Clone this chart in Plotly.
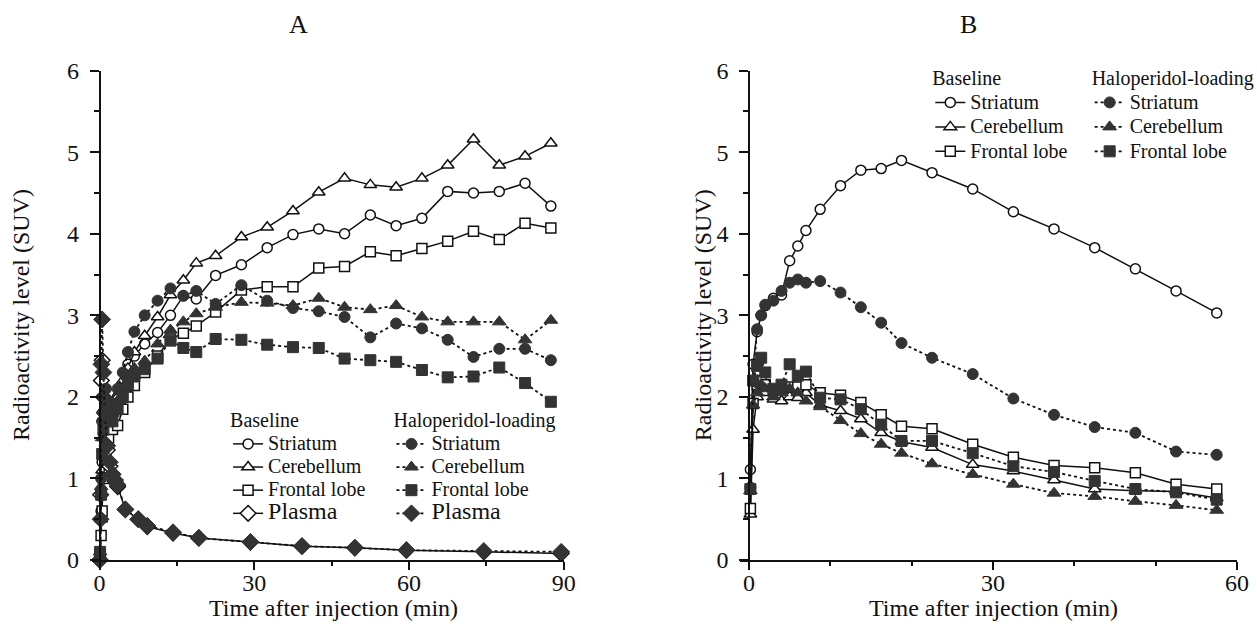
import plotly.graph_objects as go

W, H = 1257, 634
FONT = "Liberation Serif"

# ---------------- Panel A data (time in min, SUV) ----------------
tA = [0.1, 0.3, 0.5, 0.75, 1.25, 1.75, 2.5, 3.5, 4.5, 5.5, 6.75, 8.75, 11.25, 13.75,
      16.25, 18.75, 22.5, 27.5, 32.5, 37.5, 42.5, 47.5, 52.5, 57.5, 62.5, 67.5, 72.5,
      77.5, 82.5, 87.5]
A_base_striatum = [0.05, 0.6, 1.2, 1.55, 1.8, 1.85, 1.9, 2.0, 2.15, 2.4, 2.5, 2.65, 2.79,
                   3.0, 3.24, 3.20, 3.49, 3.62, 3.83, 3.99, 4.06, 4.00, 4.23, 4.10, 4.19,
                   4.52, 4.50, 4.52, 4.62, 4.34]
A_base_cerebellum = [0.05, 0.5, 1.1, 1.5, 1.75, 1.8, 1.85, 2.0, 2.2, 2.35, 2.55, 2.75, 2.98,
                     3.25, 3.43, 3.64, 3.73, 3.96, 4.08, 4.28, 4.51, 4.68, 4.60, 4.57, 4.68,
                     4.84, 5.16, 4.84, 4.95, 5.11]
A_base_frontal = [0.05, 0.3, 0.6, 1.0, 1.35, 1.5, 1.6, 1.65, 1.85, 2.0, 2.14, 2.3, 2.5,
                  2.71, 2.78, 2.87, 3.04, 3.31, 3.35, 3.35, 3.58, 3.60, 3.78, 3.73, 3.82,
                  3.91, 4.03, 3.93, 4.13, 4.07]
A_halo_striatum = [0.1, 1.0, 1.7, 2.0, 2.1, 1.95, 1.9, 2.1, 2.3, 2.55, 2.8, 3.0, 3.18, 3.33,
                   3.24, 3.30, 3.14, 3.37, 3.18, 3.09, 3.05, 2.98, 2.73, 2.90, 2.84, 2.70,
                   2.49, 2.59, 2.59, 2.45]
A_halo_cerebellum = [0.1, 0.9, 1.5, 1.85, 1.95, 1.85, 1.8, 1.95, 2.1, 2.25, 2.35, 2.44, 2.65,
                     2.82, 2.92, 3.02, 3.10, 3.16, 3.15, 3.12, 3.21, 3.10, 3.07, 3.12, 2.98,
                     2.92, 2.92, 2.92, 2.70, 2.94]
A_halo_frontal = [0.1, 0.8, 1.3, 1.6, 1.75, 1.7, 1.7, 1.85, 2.0, 2.15, 2.25, 2.34, 2.47, 2.69,
                  2.60, 2.55, 2.71, 2.70, 2.64, 2.61, 2.60, 2.47, 2.45, 2.43, 2.33, 2.24,
                  2.25, 2.36, 2.17, 1.94]

tA_plasma = [0.05, 0.2, 0.35, 0.5, 0.75, 1.0, 1.5, 2.0, 2.5, 3.0, 3.5, 5.0, 7.5, 9.25,
             14.25, 19.25, 29.25, 39.25, 49.5, 59.5, 74.5, 89.5]
A_base_plasma = [0.0, 0.8, 2.2, 2.45, 2.0, 1.7, 1.35, 1.15, 1.05, 0.97, 0.9, 0.62, 0.50,
                 0.41, 0.33, 0.27, 0.22, 0.17, 0.15, 0.12, 0.10, 0.08]
A_halo_plasma = [0.0, 0.5, 2.4, 2.95, 2.3, 1.8, 1.4, 1.2, 1.05, 0.98, 0.92, 0.62, 0.50,
                 0.42, 0.34, 0.27, 0.22, 0.17, 0.15, 0.12, 0.11, 0.10]

# ---------------- Panel B data ----------------
tB = [0.17, 0.5, 1.0, 1.5, 2.0, 3.0, 4.0, 5.0, 6.0, 7.0, 8.75, 11.25, 13.75, 16.25, 18.75,
      22.5, 27.5, 32.5, 37.5, 42.5, 47.5, 52.5, 57.5]
B_base_striatum = [1.11, 2.4, 2.8, 3.0, 3.12, 3.21, 3.25, 3.67, 3.85, 4.04, 4.30, 4.59, 4.78,
                   4.80, 4.90, 4.75, 4.55, 4.27, 4.06, 3.83, 3.57, 3.30, 3.03]
B_base_cerebellum = [0.56, 1.6, 2.0, 2.1, 2.05, 1.97, 1.95, 2.0, 1.99, 2.05, 1.9, 1.83, 1.73,
                     1.56, 1.45, 1.38, 1.17, 1.09, 0.98, 0.87, 0.85, 0.84, 0.76]
B_base_frontal = [0.63, 1.92, 2.15, 2.2, 2.15, 2.08, 2.1, 2.12, 2.12, 2.15, 2.05, 2.02, 1.93,
                  1.78, 1.64, 1.61, 1.42, 1.26, 1.16, 1.13, 1.07, 0.93, 0.87]
B_halo_striatum = [0.89, 2.2, 2.83, 3.0, 3.13, 3.18, 3.30, 3.40, 3.44, 3.40, 3.42, 3.28, 3.10,
                   2.91, 2.66, 2.48, 2.28, 1.98, 1.78, 1.63, 1.56, 1.33, 1.29]
B_halo_cerebellum = [0.85, 1.9, 2.05, 2.15, 2.1, 2.0, 2.05, 2.1, 2.05, 1.95, 1.88, 1.71, 1.55,
                     1.42, 1.31, 1.18, 1.05, 0.93, 0.82, 0.78, 0.72, 0.67, 0.61]
B_halo_frontal = [0.87, 2.2, 2.38, 2.48, 2.3, 2.1, 2.15, 2.40, 2.26, 2.31, 1.99, 1.97, 1.85,
                  1.66, 1.46, 1.46, 1.31, 1.15, 1.08, 0.97, 0.87, 0.83, 0.74]

yticks = [0, 1, 2, 3, 4, 5, 6]
yminor = [0.5, 1.5, 2.5, 3.5, 4.5, 5.5]
A_xticks = [0, 30, 60, 90]
A_xminor = [15, 45, 75]
B_xticks = [0, 30, 60]
B_xminor = [10, 20, 40, 50]

BLACK = "#111111"
DARK = "#333333"


def px(x):
    return x / W


def py(y):
    return 1 - y / H


def lbl(text, size=20):
    return "<span style='font-size:%dpx'>%s</span>" % (size, text)


fig = go.Figure()


def add(x, y, name, symbol, filled, xa, ya, legend, size=10):
    if filled:
        marker = dict(symbol=symbol, size=size + 1, color=DARK, line=dict(color=DARK, width=1))
        line = dict(color=BLACK, width=1.8, dash="dot")
    else:
        marker = dict(symbol=symbol, size=size, color="white", line=dict(color=BLACK, width=1.5))
        line = dict(color=BLACK, width=1.5)
    fig.add_trace(go.Scatter(x=x, y=y, name=name, mode="lines+markers", marker=marker,
                             line=line, xaxis=xa, yaxis=ya, legend=legend, cliponaxis=False))


# Panel A
add(tA, A_base_striatum, lbl("Striatum"), "circle", False, "x", "y", "legend")
add(tA, A_base_cerebellum, lbl("Cerebellum"), "triangle-up", False, "x", "y", "legend", 11)
add(tA, A_base_frontal, lbl("Frontal lobe"), "square", False, "x", "y", "legend", 10)
add(tA_plasma, A_base_plasma, lbl("Plasma", 24), "diamond", False, "x", "y", "legend", 12)
add(tA, A_halo_striatum, lbl("Striatum"), "circle", True, "x", "y", "legend2")
add(tA, A_halo_cerebellum, lbl("Cerebellum"), "triangle-up", True, "x", "y", "legend2", 11)
add(tA, A_halo_frontal, lbl("Frontal lobe"), "square", True, "x", "y", "legend2", 10)
add(tA_plasma, A_halo_plasma, lbl("Plasma", 24), "diamond", True, "x", "y", "legend2", 12)

# Panel B
add(tB, B_base_striatum, lbl("Striatum"), "circle", False, "x2", "y2", "legend3")
add(tB, B_base_cerebellum, lbl("Cerebellum"), "triangle-up", False, "x2", "y2", "legend3", 11)
add(tB, B_base_frontal, lbl("Frontal lobe"), "square", False, "x2", "y2", "legend3", 10)
add(tB, B_halo_striatum, lbl("Striatum"), "circle", True, "x2", "y2", "legend4")
add(tB, B_halo_cerebellum, lbl("Cerebellum"), "triangle-up", True, "x2", "y2", "legend4", 11)
add(tB, B_halo_frontal, lbl("Frontal lobe"), "square", True, "x2", "y2", "legend4", 10)

tickfont = dict(family=FONT, size=24, color=BLACK)
y_dom = [py(560), py(70.7)]


def xaxis(dom, rng, tv, mv, anchor):
    return dict(domain=dom, range=rng, anchor=anchor, showline=True, linecolor=BLACK,
                linewidth=1.5, ticks="outside", ticklen=8, tickwidth=1.5, tickcolor=BLACK,
                tickvals=tv, ticktext=[str(v) for v in tv], showgrid=False, zeroline=False,
                tickfont=tickfont, automargin=False, ticklabelstandoff=-8,
                minor=dict(tickvals=mv, ticks="outside", ticklen=4, tickwidth=1.5,
                           tickcolor=BLACK, showgrid=False))


def yaxis(pos):
    return dict(domain=y_dom, range=[0, 6], anchor="free", position=pos, showline=True,
                linecolor=BLACK, linewidth=1.5, ticks="outside", ticklen=9, tickwidth=1.5,
                tickcolor=BLACK, tickvals=yticks, ticktext=[str(v) for v in yticks],
                showgrid=False, zeroline=False, tickfont=tickfont, automargin=False,
                ticklabelstandoff=6,
                minor=dict(tickvals=yminor, ticks="outside", ticklen=5, tickwidth=1.5,
                           tickcolor=BLACK, showgrid=False))


def legend(x, y, title, fsize, tsize):
    return dict(x=x, y=y, xanchor="left", yanchor="top", bgcolor="rgba(0,0,0,0)",
                font=dict(family=FONT, size=fsize, color=BLACK),
                title=dict(text=lbl(title), font=dict(family=FONT, size=tsize, color=BLACK),
                           side="top"),
                tracegroupgap=0, itemclick=False, itemdoubleclick=False)


def ann(text, x, y, size=24, angle=0):
    return dict(text=text, x=px(x), y=py(y), xref="paper", yref="paper", showarrow=False,
                xanchor="center", yanchor="middle", textangle=angle,
                font=dict(family=FONT, size=size, color=BLACK))


fig.update_layout(
    width=W, height=H, paper_bgcolor="white", plot_bgcolor="white",
    margin=dict(l=0, r=0, t=0, b=0), showlegend=True,
    font=dict(family=FONT, color=BLACK),
    xaxis=xaxis([px(92.2), px(566)], [-1.5, 90], A_xticks, A_xminor, "y"),
    yaxis=yaxis(px(100)),
    xaxis2=xaxis([px(743), px(1242)], [-1.1, 60], B_xticks, B_xminor, "y2"),
    yaxis2=yaxis(px(752)),
    legend=legend(px(229), py(400), "Baseline", 15.5, 21),
    legend2=legend(px(393), py(400), "Haloperidol-loading", 15.5, 21),
    legend3=legend(px(934), py(54), "Baseline", 16.5, 24),
    legend4=legend(px(1094), py(54), "Haloperidol-loading", 16.5, 24),
    annotations=[
        ann("A", 300, 25, 26),
        ann("B", 972, 25, 26),
        ann("Time after injection (min)", 335, 608),
        ann("Time after injection (min)", 997, 608),
        ann("Radioactivity level (SUV)", 21, 315, angle=-90),
        ann("Radioactivity level (SUV)", 706, 315, angle=-90),
    ],
)

fig.write_html("out.html", config={"displayModeBar": False},
               post_script="document.body.style.margin='0px';")
